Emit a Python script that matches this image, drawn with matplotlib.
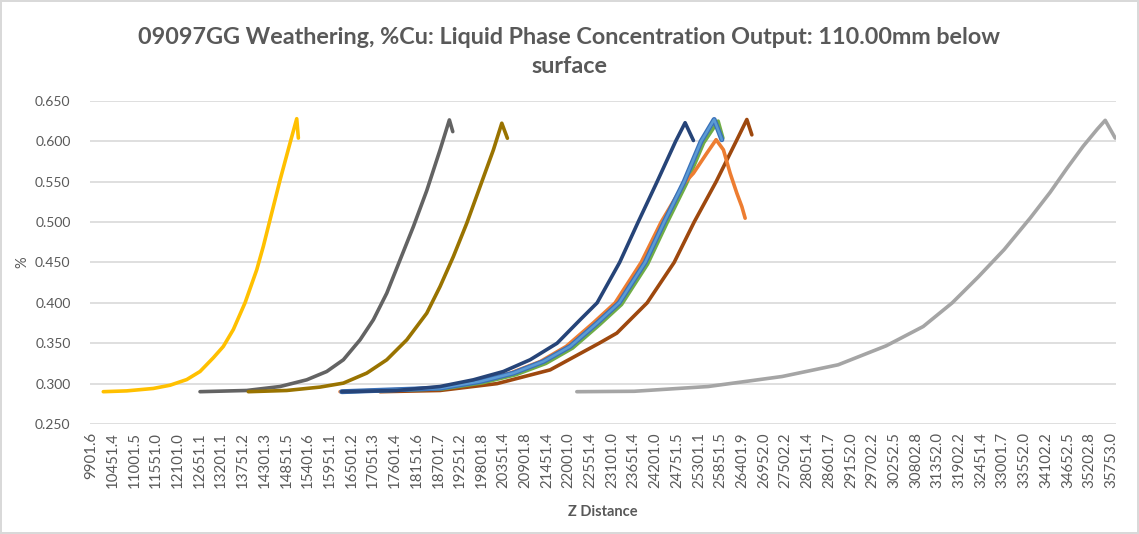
import matplotlib as mpl
import numpy as np

mpl.use("Agg")
import matplotlib.pyplot as plt  # noqa: E402

plt.rcParams["font.family"] = ["Lato", "DejaVu Sans"]

TXT = "#595959"
GRID = "#D9D9D9"

# x tick labels (category labels shown on the Excel axis)
TICK_Z = [9901.6, 10451.4, 11001.5, 11551.0, 12101.0, 12651.1, 13201.1, 13751.2,
          14301.3, 14851.5, 15401.6, 15951.1, 16501.2, 17051.3, 17601.4, 18151.6,
          18701.7, 19251.2, 19801.8, 20351.4, 20901.8, 21451.4, 22001.0, 22551.4,
          23101.0, 23651.4, 24201.0, 24751.5, 25301.1, 25851.5, 26401.9, 26952.0,
          27502.2, 28051.4, 28601.7, 29152.0, 29702.2, 30252.5, 30802.8, 31352.0,
          31902.2, 32451.4, 33001.7, 33552.0, 34102.2, 34652.5, 35202.8, 35753.0]

# series: Z distance vs %Cu
yellow_z = [10213, 10806, 11480, 11904, 12327, 12664, 13001, 13254, 13508, 13804,
            14101, 14268, 14438, 14691, 14945, 15114, 15155]
yellow_y = [0.290, 0.291, 0.294, 0.298, 0.305, 0.315, 0.332, 0.346, 0.367, 0.400,
            0.441, 0.470, 0.503, 0.552, 0.598, 0.628, 0.604]

dgrey_z = [12664, 13847, 14691, 15367, 15874, 16295, 16718, 17055, 17395, 17732,
           18069, 18408, 18745, 18981, 19067]
dgrey_y = [0.290, 0.2915, 0.2964, 0.3047, 0.315, 0.3295, 0.3542, 0.379, 0.412, 0.4532,
           0.4944, 0.539, 0.5894, 0.6265, 0.612]

olive_z = [13888, 14861, 15705, 16295, 16888, 17395, 17902, 18408, 18745, 19082,
           19422, 19759, 20096, 20309, 20451]
olive_y = [0.290, 0.2915, 0.2957, 0.3006, 0.313, 0.3295, 0.3542, 0.3872, 0.4202, 0.4573,
           0.4986, 0.544, 0.5894, 0.6224, 0.6038]

navy_z = [16255, 17648, 18745, 19589, 20350, 21026, 21710, 22293, 22724, 23294,
          23763, 24244, 24713, 24953, 25164]
navy_y = [0.290, 0.2915, 0.2964, 0.3047, 0.315, 0.3295, 0.350, 0.379, 0.400, 0.450,
          0.500, 0.550, 0.600, 0.623, 0.601]

blue_z = [16255, 18745, 19759, 20603, 21363, 22040, 22724, 23281, 23940, 24422,
          24928, 25359, 25689, 25884]
blue_y = [0.290, 0.2944, 0.3026, 0.313, 0.3274, 0.346, 0.375, 0.400, 0.450, 0.500,
          0.550, 0.600, 0.627, 0.602]

green_z = [16300, 18810, 19822, 20666, 21426, 22103, 22787, 23344, 24003, 24485,
           24991, 25422, 25790, 25910]
green_y = [0.290, 0.2935, 0.301, 0.311, 0.325, 0.344, 0.373, 0.398, 0.448, 0.498,
           0.548, 0.598, 0.625, 0.604]

orange_z = [16211, 18694, 19683, 20527, 21287, 21939, 22623, 23180, 23839, 24346,
            24928, 25164, 25503, 25739, 25924, 26094, 26264, 26390, 26474]
orange_y = [0.290, 0.2944, 0.3026, 0.313, 0.3274, 0.346, 0.375, 0.400, 0.450, 0.500,
            0.548, 0.5605, 0.5853, 0.602, 0.5894, 0.5605, 0.5357, 0.5192, 0.5048]

brown_z = [17225, 18745, 20190, 21533, 22775, 23223, 23991, 24675, 25182, 25739,
           26246, 26517, 26644]
brown_y = [0.290, 0.2915, 0.300, 0.317, 0.350, 0.3625, 0.400, 0.450, 0.500, 0.550,
           0.600, 0.627, 0.608]

lgrey_z = [22210, 23661, 25537, 27412, 28831, 30047, 30985, 31720, 32378, 33037,
           33696, 34203, 34633, 35039, 35394, 35596, 35850]
lgrey_y = [0.290, 0.2905, 0.2964, 0.3088, 0.3233, 0.3468, 0.3707, 0.400, 0.432, 0.466,
           0.505, 0.537, 0.567, 0.594, 0.615, 0.626, 0.604]

fig = plt.figure(figsize=(11.39, 5.34), dpi=100)
fig.patch.set_edgecolor(GRID)
fig.patch.set_linewidth(1.5)
ax = fig.add_axes([0.079, 0.206, 0.901, 0.605])

style = dict(lw=2.6, solid_joinstyle="round", solid_capstyle="round")
ax.plot(yellow_z, yellow_y, color="#FFC000", **style)
ax.plot(dgrey_z, dgrey_y, color="#636363", **style)
ax.plot(olive_z, olive_y, color="#997300", **style)
ax.plot(lgrey_z, lgrey_y, color="#A5A5A5", **style)
ax.plot(brown_z, brown_y, color="#9E480E", **style)
ax.plot(green_z, green_y, color="#70AD47", **style)
ax.plot(orange_z, orange_y, color="#ED7D31", **style)
ax.plot(blue_z, blue_y, color="#3A70B8", **{**style, "lw": 3.6})
ax.plot(blue_z, blue_y, color="#5B9BD5", **{**style, "lw": 1.8})
ax.plot(navy_z, navy_y, color="#264478", **style)

ax.set_xlim(9876, 35875)
ax.set_ylim(0.25, 0.65)
ax.set_yticks(np.arange(0.25, 0.651, 0.05))
ax.set_yticklabels([f"{v:.3f}" for v in np.arange(0.25, 0.651, 0.05)])
ax.set_xticks(TICK_Z)
ax.set_xticklabels([f"{v:.1f}" for v in TICK_Z], rotation=90, fontsize=10.8)
ax.tick_params(length=0, colors=TXT, labelsize=10)
ax.tick_params(axis="x", pad=6, labelsize=10.8)
ax.tick_params(axis="y", pad=14)
ax.grid(axis="y", color=GRID, lw=1.2)
ax.set_axisbelow(True)
for s in ax.spines.values():
    s.set_visible(False)

ax.set_xlabel("Z Distance", color=TXT, fontsize=10.5, fontweight="bold", labelpad=12)
ax.set_ylabel("%", color=TXT, fontsize=10.5, labelpad=4)
fig.text(0.5, 0.903, "09097GG Weathering, %Cu: Liquid Phase Concentration Output: 110.00mm below\nsurface",
         ha="center", va="center", fontsize=16.8, fontweight="bold", color=TXT, linespacing=1.45)

fig.savefig("out.png", dpi=100)
